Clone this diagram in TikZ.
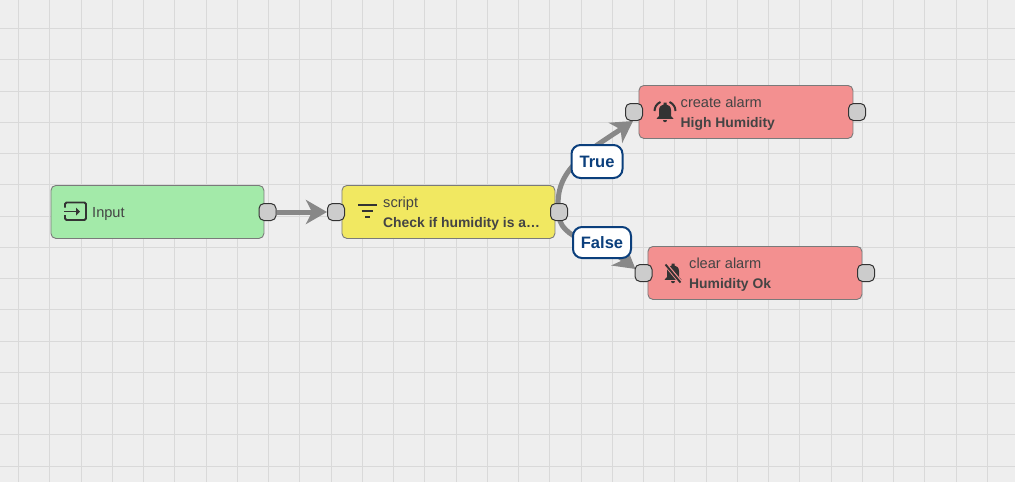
\documentclass[tikz,border=0pt]{standalone}
\usepackage{fontspec}
\setmainfont{Liberation Sans}
\usetikzlibrary{arrows.meta,calc}
\pgfdeclarelayer{backdrop}
\pgfdeclarelayer{wires}
\pgfsetlayers{backdrop,wires,main}
\definecolor{canvas}{HTML}{EEEEEE}
\definecolor{gridc}{HTML}{D9D9D9}
\definecolor{ink}{HTML}{333333}
\definecolor{softink}{HTML}{444444}
\definecolor{edgec}{HTML}{888888}
\definecolor{greenf}{HTML}{A3EAA9}
\definecolor{yellowf}{HTML}{F1E861}
\definecolor{redf}{HTML}{F39090}
\definecolor{bluec}{HTML}{0B3F7C}
\tikzset{
  x=1pt,y=-1pt,
  rulenode/.style={draw=black!52,line width=0.9pt,rounded corners=5pt,minimum width=213pt,minimum height=53pt,inner sep=0pt,anchor=north west},
  portnode/.style={draw=ink,line width=1pt,fill=black!20,rounded corners=5pt,minimum width=17pt,minimum height=17pt,inner sep=0pt},
  nametext/.style={anchor=base west,inner sep=0pt,text=softink,font=\fontsize{14.6}{14.6}\selectfont},
  desctext/.style={anchor=base west,inner sep=0pt,text=softink,font=\fontsize{13.9}{13.9}\selectfont\bfseries},
  wire/.style={draw=edgec,line width=5pt,-{Stealth[length=21pt,width=24pt,inset=6pt]}},
  linklabel/.style={draw=bluec,line width=2pt,fill=white,rounded corners=9pt,text=bluec,font=\fontsize{16.5}{16.5}\selectfont\bfseries,inner sep=0pt,minimum height=31pt},
  iconline/.style={draw=ink,line width=1.8pt}
}
\newcommand{\bellbody}[2]{%
  \begin{scope}[shift={(#1,#2)}]
  \fill[ink] (-8.5,6.8) -- (-6,4) -- (-6,-2) .. controls (-6,-5.5) and (-3.5,-7) .. (-1.5,-7.5)
    -- (-1.5,-9.5) -- (1.5,-9.5) -- (1.5,-7.5) .. controls (3.5,-7) and (6,-5.5) .. (6,-2)
    -- (6,4) -- (8.5,6.8) -- cycle;
  \fill[ink] (-2.2,8) -- (2.2,8) .. controls (2.2,11) and (-2.2,11) .. (-2.2,8) -- cycle;
  \end{scope}%
}
\begin{document}
\begin{tikzpicture}
\useasboundingbox (0,0) rectangle (1015,482);
\begin{pgfonlayer}{backdrop}
\fill[canvas] (0,0) rectangle (1015,482);
\foreach \k in {0,...,31} {
  \pgfmathsetmacro{\gx}{floor(18.6+31.25*\k)+0.5}
  \draw[gridc,line width=1pt] (\gx,0) -- (\gx,482);
}
\foreach \k in {0,...,14} {
  \pgfmathsetmacro{\gy}{floor(28.5+31.25*\k)+0.5}
  \draw[gridc,line width=1pt] (0,\gy) -- (1015,\gy);
}
\end{pgfonlayer}

\node[rulenode,fill=greenf] (input) at (50.5,185) {};
\node[rulenode,fill=yellowf] (script) at (341.5,185) {};
\node[rulenode,fill=redf,minimum width=214pt] (create) at (638.5,85) {};
\node[rulenode,fill=redf,minimum width=214pt] (clear) at (647.5,246) {};

\node[portnode] (inputout) at (267.5,212) {};
\node[portnode] (scriptin) at (336,212) {};
\node[portnode] (scriptout) at (559,212) {};
\node[portnode] (createin) at (634,112) {};
\node[portnode] (createout) at (857,112) {};
\node[portnode] (clearin) at (643.5,273) {};
\node[portnode] (clearout) at (866,273) {};

\begin{pgfonlayer}{wires}
\draw[wire] (inputout.east) -- (scriptin.west);
\draw[wire] (scriptout.center) .. controls (552,170) and (590,150) .. ($(createin.south)+(-1,0)$);
\draw[wire] (scriptout.center) .. controls (556,240) and (605,245) .. ($(clearin.west)+(1,-4)$);
\end{pgfonlayer}

\node[linklabel,minimum width=51pt,minimum height=33pt] (truelabel) at (597,161.5) {True};
\node[linklabel,minimum width=58pt] (falselabel) at (602,242.5) {False};

\node[nametext] (inputtxt) at (92,217) {Input};
\node[nametext] (scriptname) at (383,207) {script};
\node[desctext] (scriptdesc) at (383,227) {Check if humidity is a…};
\node[nametext] (createname) at (680.5,107) {create alarm};
\node[desctext] (createdesc) at (680.5,127) {High Humidity};
\node[nametext] (clearname) at (689,268) {clear alarm};
\node[desctext] (cleardesc) at (689,288) {Humidity Ok};

% input icon
\draw[iconline,rounded corners=1.5pt] (65,207.5) -- (65,202.5) -- (86,202.5) -- (86,220) -- (65,220) -- (65,215);
\draw[iconline] (64,211.5) -- (77,211.5);
\fill[ink] (80,211.5) -- (76,207.5) -- (76,215.5) -- cycle;
% filter icon
\draw[iconline] (358,205) -- (376.5,205);
\draw[iconline] (361.5,211) -- (373,211);
\draw[iconline] (365,217) -- (369.5,217);
% alarm bell
\bellbody{665}{112}
\draw[ink,line width=2pt] (654.5,111) .. controls (654.5,107) and (657,103.5) .. (660.5,102);
\draw[ink,line width=2pt] (675.5,111) .. controls (675.5,107) and (673,103.5) .. (669.5,102);
% slashed bell
\bellbody{673}{273}
\draw[redf,line width=4pt] (664.5,263) -- (681.5,283.5);
\draw[ink,line width=1.9pt] (665.5,264.5) -- (680.5,282.5);
\end{tikzpicture}
\end{document}
